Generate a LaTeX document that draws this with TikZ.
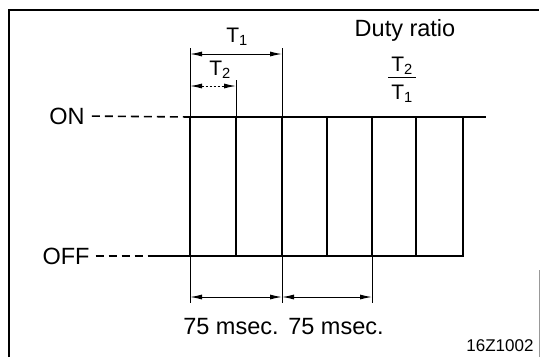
\documentclass[tikz,border=0pt]{standalone}
\usepackage{fontspec}
\setmainfont{Liberation Sans}
\usetikzlibrary{arrows.meta}
\tikzset{
  sig/.style={line width=1.8pt, line cap=rect},
  ext/.style={line width=0.9pt},
  lvl/.style={line width=1.6pt, dash pattern=on 8pt off 5pt},
  dim/.style={{Latex[length=12pt,width=5pt]}-{Latex[length=12pt,width=5pt]}, line width=1pt},
  dimd/.style={dim, dash pattern=on 2pt off 2pt},
  lbl/.style={font=\fontsize{23.5}{25}\selectfont, inner sep=0pt},
  tlbl/.style={font=\fontsize{21}{22}\selectfont, inner sep=0pt},
  code/.style={font=\fontsize{17}{18}\selectfont, inner sep=0pt}
}

\begin{document}
\begin{tikzpicture}[x=1pt, y=-1pt]
\useasboundingbox (0,0) rectangle (540,357);

% frame
\draw[line width=1.8pt] (9,357) -- (9,10) -- (539,10);
\draw[black!40, line width=0.6pt] (539,270) -- (539,357);

% levels
\node[lbl] (onl) at (67,116) {ON};
\node[lbl] (offl) at (66,256) {OFF};

% pulse train
\foreach \x [count=\i] in {190,236,282,327,372,416,463} {
  \coordinate (t\i) at (\x,117);
  \coordinate (b\i) at (\x,256);
  \draw[sig] (t\i) -- (b\i);
}
\coordinate (tend) at (485,117);
\coordinate (offj) at (148,256);
\draw[sig] (t1) -- (tend);
\draw[sig] (b1) -- (b7);

\draw[lvl, shorten <=7pt] (onl.east) -- (t1);
\draw[lvl, shorten <=6pt] (offl.east) -- (offj);
\draw[line width=1.6pt] (offj) -- (b1);

% T1 / T2
\coordinate (e1) at (190,48);
\coordinate (e2) at (282,48);
\coordinate (e3) at (236,80);
\draw[ext] (t1) -- (e1);
\draw[ext] (t3) -- (e2);
\draw[ext] (t2) -- (e3);
\coordinate (a1) at (190,54);
\coordinate (a2) at (282,54);
\coordinate (a3) at (190,86);
\coordinate (a4) at (236,86);
\draw[dim] (a1) -- (a2);
\draw[dimd] (a3) -- (a4);
\node[tlbl] (tone) at (237,37) {T\textsubscript{1}};
\node[tlbl] (ttwo) at (220,70) {T\textsubscript{2}};

% duty ratio
\node[lbl] (duty) at (405,30) {Duty ratio};
\node[tlbl, inner xsep=3pt] (fnum) at (402,66) {T\textsubscript{2}};
\node[tlbl] (fden) at (402,94) {T\textsubscript{1}};
\draw[ext] ([yshift=-2pt]fnum.south west) -- ([yshift=-2pt]fnum.south east);

% period
\coordinate (d1) at (190,303);
\coordinate (d2) at (282,303);
\coordinate (d3) at (372,303);
\draw[ext] (b1) -- (d1);
\draw[ext] (b3) -- (d2);
\draw[ext] (b5) -- (d3);
\coordinate (m1) at (190,297);
\coordinate (m2) at (282,297);
\coordinate (m3) at (372,297);
\draw[dim] (m1) -- (m2);
\draw[dim] (m2) -- (m3);
\node[lbl] (p1) at (231,327) {75 msec.};
\node[lbl] (p2) at (336,327) {75 msec.};

\node[code] (fig) at (500,346) {16Z1002};
\end{tikzpicture}
\end{document}
